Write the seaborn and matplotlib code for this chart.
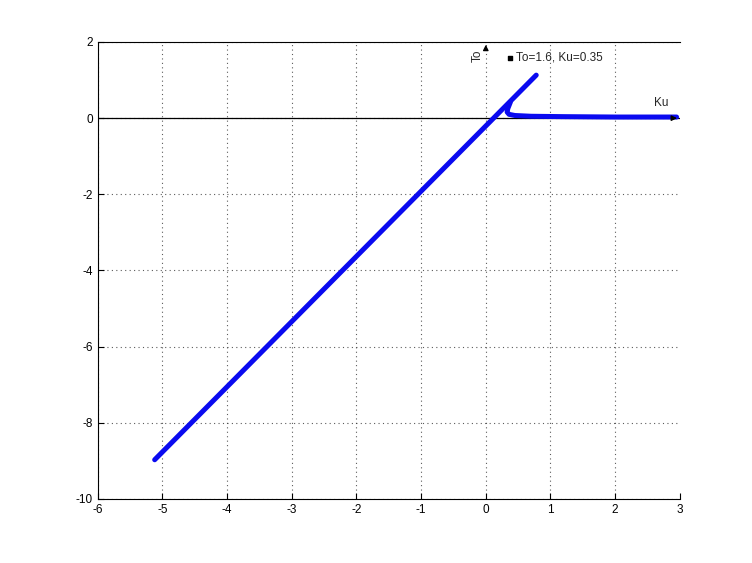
import pandas as pd
import seaborn as sns
import matplotlib.pyplot as plt

# main straight branch
main_ku = [-5.12, 0.78]
main_to = [-8.97, 1.13]

# second branch, bending onto the Ku axis
branch_ku = [0.38, 0.34, 0.33, 0.36, 0.45, 0.7, 1.2, 2.0, 2.95]
branch_to = [0.42, 0.25, 0.16, 0.1, 0.07, 0.05, 0.04, 0.03, 0.03]

point_ku = [0.37]
point_to = [1.58]
point_label = "To=1.6, Ku=0.35"

xticks = [-6, -5, -4, -3, -2, -1, 0, 1, 2, 3]
yticks = [-10, -8, -6, -4, -2, 0, 2]

sns.set_style("white")
plt.rcParams["font.family"] = ["Liberation Sans", "DejaVu Sans"]
plt.rcParams["axes.unicode_minus"] = False

fig = plt.figure(figsize=(7.52, 5.63), dpi=100)
ax = fig.add_axes([0.13, 0.1137, 0.774, 0.8117])

df1 = pd.DataFrame({"Ku": main_ku, "To": main_to})
df2 = pd.DataFrame({"Ku": branch_ku, "To": branch_to})
sns.lineplot(data=df1, x="Ku", y="To", sort=False, color="#0a0af0", linewidth=3.6, ax=ax)
sns.lineplot(data=df2, x="Ku", y="To", sort=False, color="#0a0af0", linewidth=3.6, ax=ax)

ax.set_xlim(-6, 3)
ax.set_ylim(-10, 2)
ax.set_xticks(xticks)
ax.set_yticks(yticks)
ax.set_xlabel("")
ax.set_ylabel("")
ax.grid(True, color="#333333", linestyle=(0, (1, 3)), linewidth=0.8, alpha=0.8)
ax.get_xgridlines()[-1].set_visible(False)
ax.tick_params(direction="in", length=4, labelsize=8.5, colors="black", bottom=True, left=True)

for s in ["left", "bottom", "top"]:
    ax.spines[s].set_color("black")
    ax.spines[s].set_linewidth(0.8)
ax.spines["right"].set_visible(False)

# Ku and To axis lines with arrows
ax.axhline(0, color="black", linewidth=0.9, zorder=1)
ax.annotate("", xy=(3.0, 0), xytext=(2.85, 0),
            arrowprops=dict(arrowstyle="-|>", color="black", lw=0.9, mutation_scale=8))
ax.annotate("", xy=(0, 2.0), xytext=(0, 1.75),
            arrowprops=dict(arrowstyle="-|>", color="black", lw=0.9, mutation_scale=8))
ax.text(2.72, 0.24, "Ku", fontsize=8.5, ha="center", va="bottom")
ax.text(-0.13, 1.65, "To", fontsize=8.5, rotation=90, ha="center", va="center")

ax.scatter(point_ku, point_to, marker="s", s=10, color="black", zorder=5)
ax.text(point_ku[0] + 0.1, point_to[0], point_label, fontsize=8.5, va="center", ha="left")

fig.savefig("out.png", dpi=100)
